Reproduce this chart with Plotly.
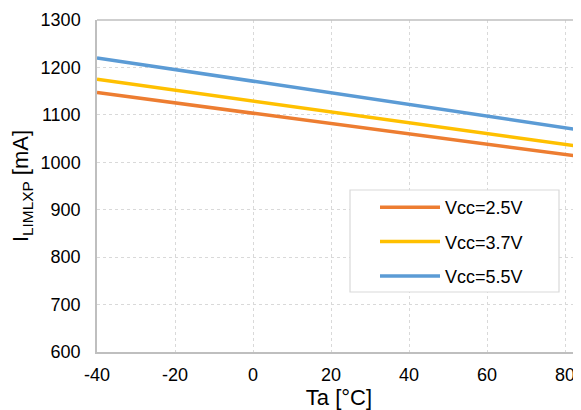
import plotly.graph_objects as go

# --------------------------------------------
# Data
# --------------------------------------------
ta = [-40, 84]
i_2v5 = [1147, 1012]
i_3v7 = [1175, 1033]
i_5v5 = [1220, 1068]

series = [
    ("Vcc=2.5V", i_2v5, "#ED7D31"),
    ("Vcc=3.7V", i_3v7, "#FFC000"),
    ("Vcc=5.5V", i_5v5, "#5B9BD5"),
]

x_ticks = [-40, -20, 0, 20, 40, 60, 80]
x_labels = ["-40", "-20", "0", "20", "40", "60", "80"]
y_ticks = [600, 700, 800, 900, 1000, 1100, 1200, 1300]

FONT = "Liberation Sans, Arial, sans-serif"

# the page body has an 8px margin, so the figure is 8px smaller each way
PAGE_OFF = 8

fig = go.Figure()

for i, (name, vals, color) in enumerate(series):
    fig.add_trace(
        go.Scatter(
            x=ta,
            y=vals,
            mode="lines",
            name=name,
            legendgroup=f"g{i}",
            line=dict(color=color, width=3.5),
        )
    )

fig.update_layout(
    width=581 - PAGE_OFF,
    height=410 - PAGE_OFF,
    margin=dict(l=97 - PAGE_OFF, r=0, t=20 - PAGE_OFF, b=58),
    paper_bgcolor="white",
    plot_bgcolor="white",
    font=dict(family=FONT, size=18, color="#000000"),
    showlegend=True,
    legend=dict(
        x=(375 - 97) / 484,
        y=(352 - 189) / 332,
        xanchor="left",
        yanchor="top",
        borderwidth=0,
        bgcolor="rgba(0,0,0,0)",
        font=dict(size=18),
        tracegroupgap=8,
        itemwidth=60,
    ),
)

fig.update_xaxes(
    range=[-40, 84.1],
    tickvals=x_ticks,
    ticktext=x_labels,
    automargin=False,
    showgrid=True,
    gridcolor="#D9D9D9",
    griddash="dot",
    showline=True,
    linecolor="#BFBFBF",
    linewidth=1.5,
    zeroline=False,
    ticks="outside",
    ticklen=6,
    tickcolor="rgba(0,0,0,0)",
    title=dict(text="Ta [°C]", standoff=4),
)

fig.update_yaxes(
    range=[600, 1300],
    tickvals=y_ticks,
    automargin=False,
    showgrid=True,
    gridcolor="#D9D9D9",
    griddash="dot",
    showline=True,
    linecolor="#BFBFBF",
    linewidth=1.5,
    zeroline=False,
    ticks="outside",
    ticklen=11,
    tickcolor="rgba(0,0,0,0)",
    title=dict(text="I<sub>LIMLXP</sub> [mA]", standoff=8),
)

# top frame line
fig.add_shape(
    type="line", xref="paper", yref="paper",
    x0=0, x1=1, y0=1, y1=1,
    line=dict(color="#BFBFBF", width=1.5),
)

# legend frame
fig.add_shape(
    type="rect", xref="paper", yref="paper",
    x0=(350 - 97) / 484, x1=(559 - 97) / 484,
    y0=(352 - 292) / 332, y1=(352 - 190) / 332,
    line=dict(color="#D9D9D9", width=1.2),
    fillcolor="white",
    layer="above",
)

# no scrollbars in the page
fig.write_html("out.html", post_script="document.body.style.overflow='hidden';")
